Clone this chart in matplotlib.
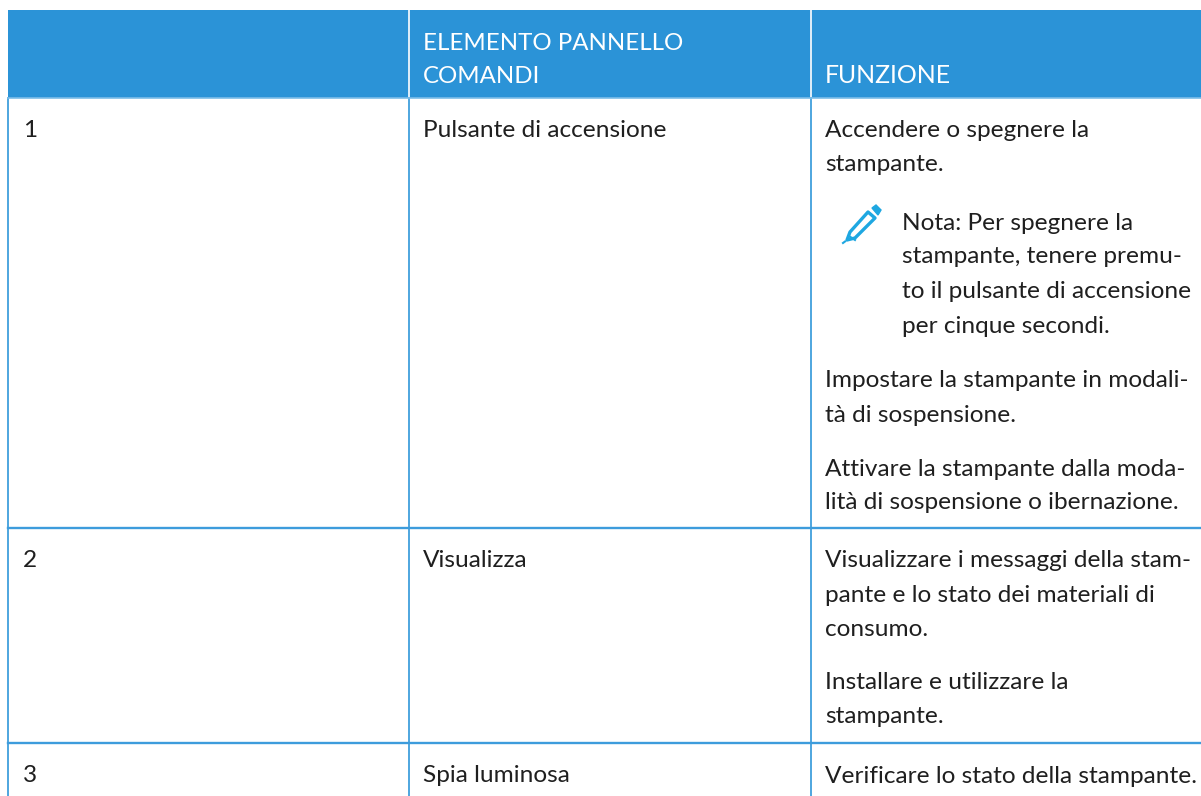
import matplotlib
matplotlib.use("Agg")
import matplotlib.pyplot as plt
from matplotlib.patches import Rectangle, Polygon

plt.rcParams['font.family'] = ['Lato', 'DejaVu Sans']

BLUE = "#2b93d7"
VLINE = "#4ea6df"
HLINE = "#3d9cdc"
HEAD_LINE = "#7cbde8"
TEXT = "#1f1f1f"
ICON = "#1ea7e1"

header_elemento = ["ELEMENTO PANNELLO", "COMANDI"]
header_funzione = "FUNZIONE"
numbers = ["1", "2", "3"]
elements = ["Pulsante di accensione", "Visualizza", "Spia luminosa"]
function_lines = [
    "Accendere o spegnere la", "stampante.",
    "Impostare la stampante in modali-", "tà di sospensione.",
    "Attivare la stampante dalla moda-", "lità di sospensione o ibernazione.",
    "Visualizzare i messaggi della stam-", "pante e lo stato dei materiali di", "consumo.",
    "Installare e utilizzare la", "stampante.",
    "Verificare lo stato della stampante.",
]
function_y = [137, 171, 387, 422, 476, 509, 567, 602, 636, 689, 723, 783]
nota_lines = ["Nota: Per spegnere la", "stampante, tenere premu-", "to il pulsante di accensione", "per cinque secondi."]
nota_y = [230, 263, 298, 333]

col_x = [8, 408.5, 810.5, 1201]
row_y = [10, 98, 528, 743, 796]
cell_y = [137, 567, 782]

fig = plt.figure(figsize=(12.01, 7.96), dpi=100)
ax = fig.add_axes([0, 0, 1, 1])
ax.set_xlim(0, 1201)
ax.set_ylim(796, 0)
ax.axis("off")

ax.add_patch(Rectangle((col_x[0], row_y[0]), col_x[3] - col_x[0], row_y[1] - row_y[0], color=BLUE, lw=0))
for x in col_x[1:3]:
    ax.plot([x, x], [row_y[0], row_y[1] - 1], color="white", lw=1.2)
for x in col_x[:3]:
    ax.plot([x, x], [row_y[1], row_y[4]], color=VLINE, lw=1.4)
ax.plot([col_x[0], col_x[3]], [row_y[1], row_y[1]], color=HEAD_LINE, lw=1.2)
for y in row_y[2:4]:
    ax.plot([col_x[0], col_x[3]], [y, y], color=HLINE, lw=1.7)

fs = 17.6
ax.text(423, 50, header_elemento[0], color="white", fontsize=17.3, va="baseline")
ax.text(423, 83, header_elemento[1], color="white", fontsize=17.3, va="baseline")
ax.text(825, 83, header_funzione, color="white", fontsize=17.9, va="baseline")

for i in range(3):
    ax.text(23, cell_y[i], numbers[i], color=TEXT, fontsize=fs, va="baseline")
    ax.text(423, cell_y[i], elements[i], color=TEXT, fontsize=fs, va="baseline")

for txt, y in zip(function_lines, function_y):
    ax.text(825, y, txt, color=TEXT, fontsize=fs, va="baseline")

for txt, y in zip(nota_lines, nota_y):
    ax.text(902, y, txt, color=TEXT, fontsize=fs, va="baseline")

# pencil icon
ax.add_patch(Polygon([(850, 232), (868, 212), (875, 218), (855, 238), (847, 240)],
                     closed=True, fill=False, edgecolor=ICON, lw=2.4, joinstyle="round"))
ax.add_patch(Polygon([(872, 208), (876, 205), (881, 210), (878, 215)],
                     closed=True, fill=True, facecolor=ICON, edgecolor=ICON, lw=1))
ax.plot([849, 855], [236, 240], color=ICON, lw=1.5)
ax.plot([843, 845], [243, 241.5], color=ICON, lw=1.5)

fig.savefig("out.png", dpi=100)
